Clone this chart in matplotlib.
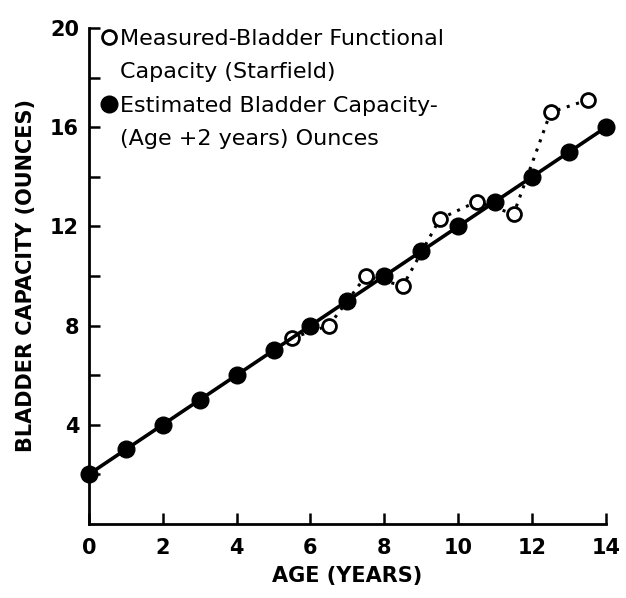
import matplotlib.pyplot as plt
from matplotlib.lines import Line2D
import numpy as np

# estimated bladder capacity = age + 2
age_est = [0, 1, 2, 3, 4, 5, 6, 7, 8, 9, 10, 11, 12, 13, 14]
cap_est = [2, 3, 4, 5, 6, 7, 8, 9, 10, 11, 12, 13, 14, 15, 16]

# measured functional capacity (Starfield)
age_meas = [5.5, 6.5, 7.5, 8.5, 9.5, 10.5, 11.5, 12.5, 13.5]
cap_meas = [7.5, 8.0, 10.0, 9.6, 12.3, 13.0, 12.5, 16.6, 17.1]

xticks = [0, 2, 4, 6, 8, 10, 12, 14]
yticks_major = [4, 8, 12, 16, 20]
yticks_minor = [2, 6, 10, 14, 18]

legend_lines = ['Measured-Bladder Functional', 'Capacity (Starfield)',
                'Estimated Bladder Capacity-', '(Age +2 years) Ounces']

plt.rcParams['font.family'] = 'DejaVu Sans'

fig = plt.figure(figsize=(6.26, 5.98), dpi=100)
ax = fig.add_axes([0.142, 0.124, 0.826, 0.829])

ax.plot(age_meas, cap_meas, linestyle=(0, (1, 2.2)), color='black', lw=2.2,
        marker='o', markersize=10, markerfacecolor='white',
        markeredgecolor='black', markeredgewidth=2, zorder=2)
ax.plot(age_est, cap_est, '-', color='black', lw=2.6,
        marker='o', markersize=12, markerfacecolor='black',
        markeredgecolor='black', zorder=3, clip_on=False)

ax.set_xlim(0, 14)
ax.set_ylim(0, 20)
ax.set_xticks(xticks)
ax.set_xticklabels([str(t) for t in xticks], fontsize=15, fontweight='bold')
ax.set_yticks(yticks_major)
ax.set_yticklabels([str(t) for t in yticks_major], fontsize=15, fontweight='bold')
ax.set_yticks(yticks_minor, minor=True)

ax.tick_params(axis='both', which='both', direction='in', length=8, width=1.8)
ax.tick_params(axis='y', which='major', pad=7)
ax.tick_params(axis='x', pad=10)

for s in ['top', 'right']:
    ax.spines[s].set_visible(False)
for s in ['left', 'bottom']:
    ax.spines[s].set_linewidth(2)

ax.set_xlabel('AGE (YEARS)', fontsize=15, fontweight='bold', labelpad=6)
ax.set_ylabel('BLADDER CAPACITY (OUNCES)', fontsize=15, fontweight='bold', labelpad=10)

blank = Line2D([], [], linestyle='none', marker='none')
handles = [
    Line2D([], [], linestyle='none', marker='o', markersize=10,
           markerfacecolor='white', markeredgecolor='black', markeredgewidth=2),
    blank,
    Line2D([], [], linestyle='none', marker='o', markersize=12,
           markerfacecolor='black', markeredgecolor='black'),
    blank,
]
ax.legend(handles, legend_lines, loc='upper left', bbox_to_anchor=(0.0, 1.025),
          frameon=False, fontsize=16, handlelength=0.6, handletextpad=0.2,
          labelspacing=0.6, borderaxespad=0.2)

fig.savefig('out.png', dpi=100)
